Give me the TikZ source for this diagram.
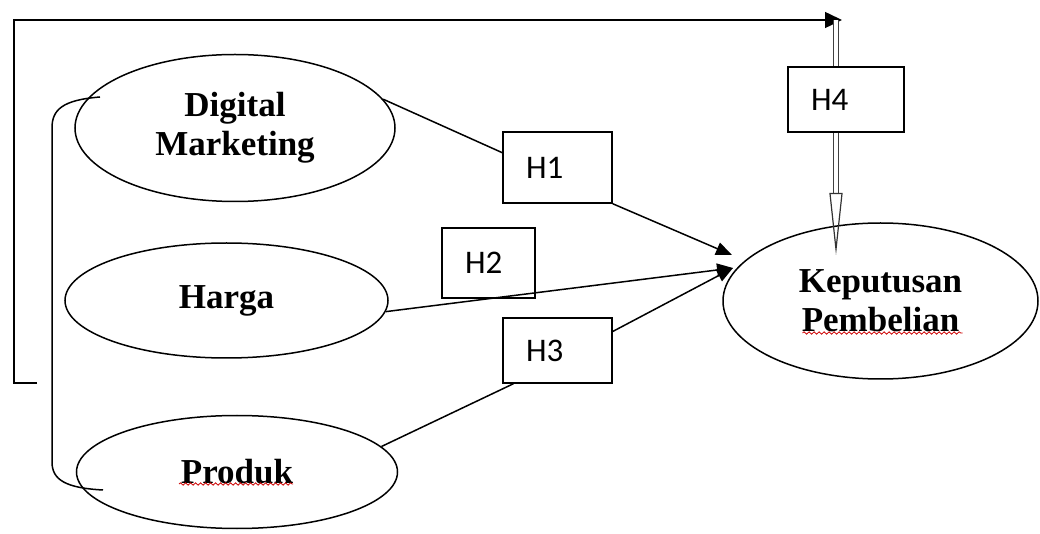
\documentclass[tikz,border=0pt]{standalone}
\usepackage{fontspec}
\setmainfont{Liberation Serif}
\newfontfamily\hfont{Carlito}
\usetikzlibrary{shapes.geometric,arrows.meta,calc,decorations.pathmorphing}

\tikzset{
  var/.style={ellipse, draw, line width=0.75pt, inner sep=0pt, align=center,
    font=\fontsize{17.5}{19.5}\selectfont\bfseries},
  hbox/.style={draw, line width=0.75pt, inner xsep=11.5pt, inner ysep=0pt, align=left,
    font=\hfont\fontsize{16.5}{18}\selectfont},
  conn/.style={line width=0.75pt},
  head/.style={-{Triangle[length=8pt,width=6.5pt]}},
  dbl/.style={double, double distance=1.6pt, line width=0.55pt, draw=black!75},
  spell/.style={red!80!black, line width=0.4pt, decorate,
    decoration={snake, amplitude=0.6pt, segment length=2.5pt}}
}

\begin{document}
\begin{tikzpicture}[x=0.5pt,y=-0.5pt]
          \useasboundingbox (0,0) rectangle (1040,534);

          %%    % variables
          \node[var, minimum width=160pt, minimum height=73.5pt] (dm) at (235,128) {Digital\\Marketing};
          \node[var, minimum width=161.5pt, minimum height=57.5pt] (harga) at (226.5,300.5) {Harga};
          \node[var, minimum width=160.5pt, minimum height=56.5pt] (produk) at (237,472) {Produk};
          \node[var, minimum width=157.5pt, minimum height=78pt] (kp) at (880.5,301) {Keputusan\\Pembelian};

          %%    % hypotheses
          \node[hbox, text width=31.5pt, minimum height=35.5pt] (h1) at (557.5,167.5) {H1};
          \node[hbox, text width=23.5pt, minimum height=35pt] (h2) at (488.5,263) {H2};
          \node[hbox, text width=31.5pt, minimum height=32.5pt] (h3) at (557.5,350.5) {H3};
          \node[hbox, text width=35pt, minimum height=32.5pt] (h4) at (846,99.5) {H4};

          \coordinate (t1) at (732,255);
          \coordinate (t2) at (733,268);

          \draw[conn] (dm.11) -- (h1.165);
          \draw[conn,head] (h1.south east) -- (t1);
          \draw[conn,head] (harga.-4) -- (t2);
          \draw[conn,head] (h3.19) -- (t2);
          \draw[conn] (produk.10) -- (h3.217);

          %%    % H4 loop
          \coordinate (l1) at (37,383);
          \coordinate (l2) at (14,383);
          \coordinate (l3) at (14,20);
          \coordinate (c4) at (836,20);
          \coordinate (a4) at (836,193);
          \coordinate (t4) at (836,255);
          \draw[conn, -{Triangle[length=8.5pt,width=8pt]}] (l1) -- (l2) -- (l3) -- ([xshift=3pt]c4);
          \draw[dbl] (c4) -- (c4 |- h4.north);
          \draw[dbl] (c4 |- h4.south) -- (a4);
          \draw[line width=0.6pt, draw=black!80, -{Triangle[open,length=31pt,width=6.5pt]}] (a4) -- (t4);

          %%    % bracket
          \coordinate (b1) at (100,97);
          \coordinate (b2) at (103,490);
          \draw[conn] (b1) .. controls (62,100) and (52,110) .. (52,128) -- (52,462)
            .. controls (52,480) and (66,488) .. (b2);

          %%    % spelling marks
          \draw[spell] ($(produk.center)+(-58,12)$) -- ($(produk.center)+(56,12)$);
          \draw[spell] ($(kp.center)+(-78,32)$) -- ($(kp.center)+(82,32)$);
        \end{tikzpicture}
\end{document}
